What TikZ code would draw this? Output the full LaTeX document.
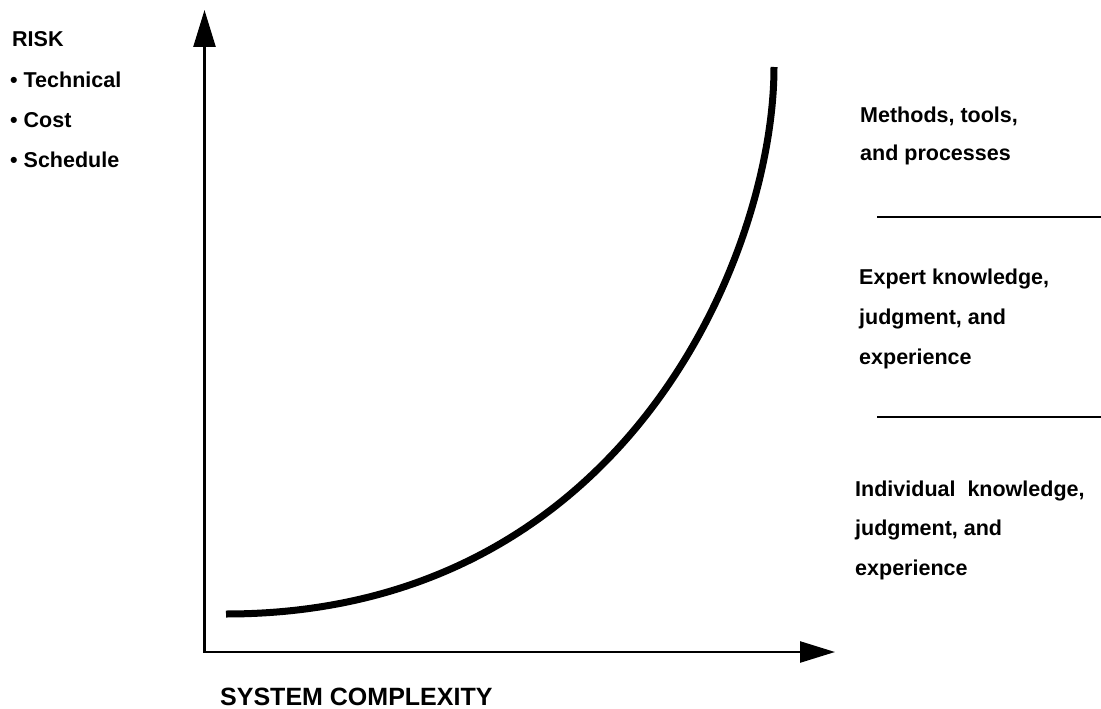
\documentclass[tikz,border=0pt]{standalone}
\usepackage{fontspec}
\setmainfont{Liberation Sans}
\usetikzlibrary{arrows.meta}
\begin{document}
\begin{tikzpicture}[x=1pt,y=-1pt,
  lbl/.style={anchor=base west, inner sep=0pt, font=\fontsize{21.5}{26}\selectfont\bfseries},
  biglbl/.style={anchor=base west, inner sep=0pt, font=\fontsize{25}{30}\selectfont\bfseries},
  axis/.style={line width=2.5pt, {Triangle[length=37pt,width=22pt]}-{Triangle[length=35pt,width=21pt]}},
  divider/.style={line width=2.5pt},
  riskcurve/.style={line width=7pt}]
\useasboundingbox (0,0) rectangle (1101,709);
% axes
\coordinate (ytip) at (204.5,10);
\coordinate (origin) at (204.5,652);
\coordinate (xtip) at (835,652);
\draw[axis] (ytip) -- (origin) -- (xtip);
% curve
\coordinate (c0) at (226,614);
\coordinate (c1) at (626,614);
\coordinate (c2) at (774,253);
\coordinate (c3) at (774,67);
\draw[riskcurve] (c0) .. controls (c1) and (c2) .. (c3);
% dividers
\coordinate (d1a) at (877,217);
\coordinate (d1b) at (1101,217);
\coordinate (d2a) at (877,417);
\coordinate (d2b) at (1101,417);
\draw[divider] (d1a) -- (d1b);
\draw[divider] (d2a) -- (d2b);
% left labels
\node[lbl] (risk) at (12,47) {RISK};
\node[lbl] (tech) at (10,88) {• Technical};
\node[lbl] (cost) at (10,128) {• Cost};
\node[lbl] (sched) at (10,167) {• Schedule};
% right labels
\node[lbl] (m1) at (860,122) {Methods, tools,};
\node[lbl] (m2) at (860,160) {and processes};
\node[lbl] (e1) at (859,284) {Expert knowledge,};
\node[lbl] (e2) at (859,324) {judgment, and};
\node[lbl] (e3) at (859,364) {experience};
\node[lbl] (i1) at (855,496) {Individual~ knowledge,};
\node[lbl] (i2) at (855,535) {judgment, and};
\node[lbl] (i3) at (855,575) {experience};
% x label
\node[biglbl] (xl) at (220,705) {SYSTEM COMPLEXITY};
\end{tikzpicture}
\end{document}
